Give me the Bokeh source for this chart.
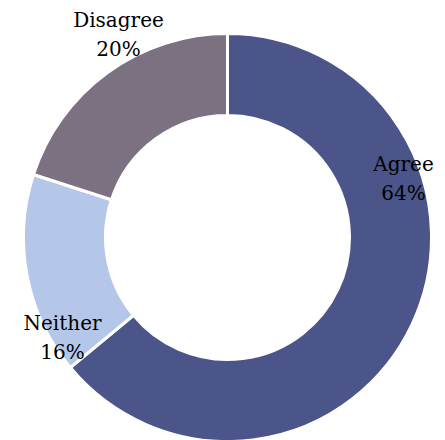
import numpy as np
from bokeh.plotting import figure, ColumnDataSource
from bokeh.models import Range1d
from bokeh.core.properties import value
from bokeh.embed import file_html
from bokeh.resources import INLINE

# Data
categories = ["Agree", "Neither", "Disagree"]
percents = [64, 16, 20]
colors = ["#4B5589", "#B4C7E8", "#7C7180"]

# Layout (pixel-like units)
W, H = 445, 440
cx, cy = 227, 203
r_outer, r_inner = 204, 122
label_pos = {"Agree": (403, 262), "Neither": (62, 103), "Disagree": (118, 406)}

fr = np.array(percents, dtype=float) / sum(percents)
cum = np.concatenate([[0], np.cumsum(fr)])
start = np.pi / 2 - cum[:-1] * 2 * np.pi
end = np.pi / 2 - cum[1:] * 2 * np.pi

src = ColumnDataSource(dict(cat=categories, start=start, end=end, color=colors))

p = figure(width=W, height=H, x_range=Range1d(0, W), y_range=Range1d(0, H),
           output_backend="svg", toolbar_location=None, min_border=0)
p.axis.visible = False
p.grid.visible = False
p.outline_line_color = None
p.background_fill_color = "white"
p.border_fill_color = "white"

p.annular_wedge(x=cx, y=cy, inner_radius=r_inner, outer_radius=r_outer,
                start_angle="start", end_angle="end", direction="clock",
                fill_color="color", line_color="white", line_width=3, source=src)

labels = [f"{c}\n{v}%" for c, v in zip(categories, percents)]
lx = [label_pos[c][0] for c in categories]
ly = [label_pos[c][1] for c in categories]
p.text(x=lx, y=ly, text=labels, text_align="center", text_baseline="middle",
       text_font=value("DejaVu Serif"), text_font_size="20px", text_color="black",
       text_line_height=1.2)

open("out.html", "w").write(file_html(p, INLINE))
